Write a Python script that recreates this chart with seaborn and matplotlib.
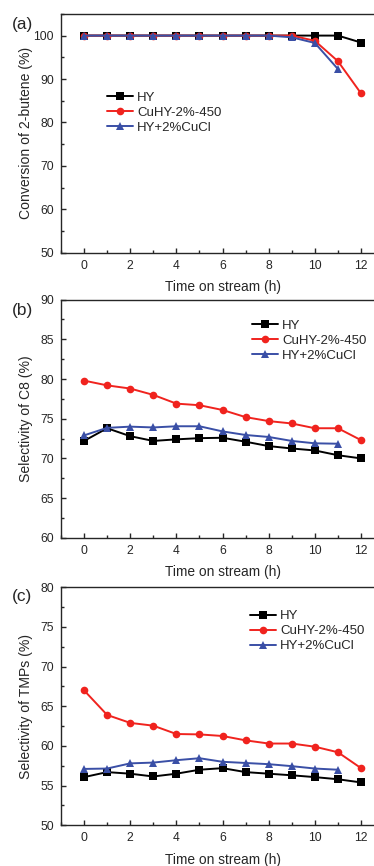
import matplotlib
matplotlib.use("Agg")
import matplotlib.pyplot as plt
from matplotlib.ticker import MultipleLocator
import seaborn as sns
import pandas as pd

# Time on stream (h)
hours = list(range(13))
hours_cucl = list(range(12))

series_names = ["HY", "CuHY-2%-450", "HY+2%CuCl"]

# (a) Conversion of 2-butene (%)
conv_hy = [100, 100, 100, 100, 100, 100, 100, 100, 100, 100, 100, 100, 98.4]
conv_cuhy = [100, 100, 100, 100, 100, 100, 100, 100, 100, 100, 98.8, 94.1, 86.7]
conv_cucl = [100, 100, 100, 100, 100, 100, 100, 100, 100, 99.6, 98.3, 92.3]

# (b) Selectivity of C8 (%)
c8_hy = [72.2, 73.8, 72.8, 72.2, 72.4, 72.55, 72.6, 72.1, 71.55, 71.25, 71.0, 70.4, 70.0]
c8_cuhy = [79.8, 79.2, 78.8, 78.0, 76.9, 76.7, 76.1, 75.2, 74.7, 74.4, 73.8, 73.8, 72.3]
c8_cucl = [72.9, 73.85, 74.0, 73.9, 74.05, 74.05, 73.4, 72.95, 72.7, 72.2, 71.9, 71.85]

# (c) Selectivity of TMPs (%)
tmp_hy = [56.07, 56.7, 56.5, 56.15, 56.5, 57.0, 57.2, 56.7, 56.5, 56.3, 56.07, 55.8, 55.4]
tmp_cuhy = [67.0, 63.9, 62.9, 62.55, 61.5, 61.45, 61.25, 60.7, 60.3, 60.3, 59.9, 59.2, 57.2]
tmp_cucl = [57.1, 57.15, 57.8, 57.9, 58.2, 58.45, 58.0, 57.85, 57.7, 57.45, 57.15, 57.0]

colors = ["#000000", "#f0231e", "#3a4fa6"]
markers = ["s", "o", "^"]


def make_frame(hy, cuhy, cucl):
    parts = [
        pd.DataFrame({"t": hours, "v": hy, "cat": series_names[0]}),
        pd.DataFrame({"t": hours, "v": cuhy, "cat": series_names[1]}),
        pd.DataFrame({"t": hours_cucl, "v": cucl, "cat": series_names[2]}),
    ]
    return pd.concat(parts, ignore_index=True)


sns.set_style("ticks")
plt.rcParams["font.family"] = ["Liberation Sans", "DejaVu Sans"]
plt.rcParams["axes.linewidth"] = 1.0

fig = plt.figure(figsize=(3.74, 8.66), dpi=100)

panels = [
    ("(a)", make_frame(conv_hy, conv_cuhy, conv_cucl), "Conversion of 2-butene (%)",
     (50, 105), 10, [0.163, 0.708, 0.864, 0.276], (0.142, 0.586), 0.0285),
    ("(b)", make_frame(c8_hy, c8_cuhy, c8_cucl), "Selectivity of C8 (%)",
     (60, 90), 5, [0.163, 0.379, 0.864, 0.275], (0.591, 0.828), 0.359),
    ("(c)", make_frame(tmp_hy, tmp_cuhy, tmp_cucl), "Selectivity of TMPs (%)",
     (50, 80), 5, [0.163, 0.047, 0.864, 0.275], (0.585, 0.815), 0.689),
]

for tag, df, ylab, ylim, ystep, rect, leg_xy, tag_y in panels:
    ax = fig.add_axes(rect)
    sns.lineplot(data=df, x="t", y="v", hue="cat", style="cat",
                 palette=colors, markers=markers, dashes=False,
                 markersize=5.5, linewidth=1.4, markeredgewidth=0, ax=ax)
    ax.set_xlim(-1, 13)
    ax.set_ylim(*ylim)
    ax.xaxis.set_major_locator(MultipleLocator(2))
    ax.xaxis.set_minor_locator(MultipleLocator(1))
    ax.yaxis.set_major_locator(MultipleLocator(ystep))
    ax.yaxis.set_minor_locator(MultipleLocator(ystep / 2))
    ax.tick_params(which="both", direction="in", labelsize=8.7, pad=5, width=1.0)
    ax.tick_params(which="major", length=3.5)
    ax.tick_params(which="minor", length=2)
    ax.set_xlabel("Time on stream (h)", fontsize=9.9, labelpad=6)
    ax.set_ylabel(ylab, fontsize=10.1)
    ax.yaxis.set_label_coords(-0.085, 0.5)
    ax.legend(loc="center left", bbox_to_anchor=leg_xy, frameon=False,
              fontsize=9.5, handlelength=2.0, handletextpad=0.3,
              labelspacing=0.2, borderpad=0, borderaxespad=0)
    fig.text(0.06, 1 - tag_y, tag, fontsize=12.4, ha="center", va="center")

fig.savefig("out.png", dpi=100)
